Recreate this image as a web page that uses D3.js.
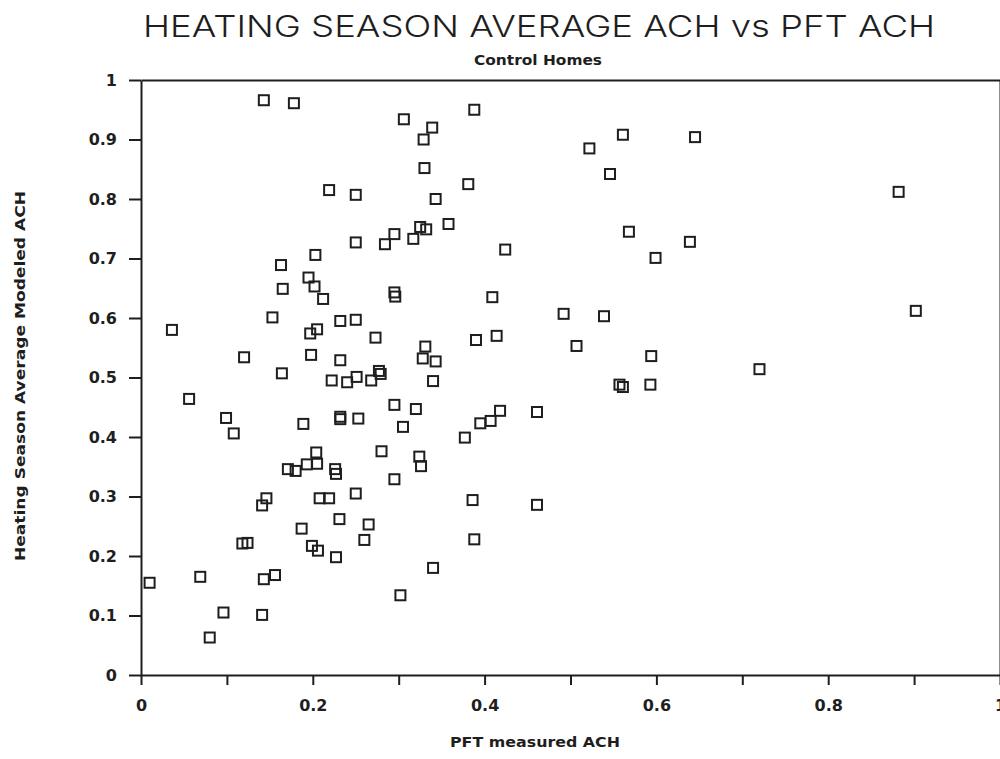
<!DOCTYPE html>
<html>
<head>
<meta charset="utf-8">
<script src="https://cdn.jsdelivr.net/npm/d3@7"></script>
<style>
  html, body { margin: 0; padding: 0; background: #ffffff; }
  svg { display: block; }
</style>
</head>
<body>
<svg id="chart" width="1000" height="759"></svg>
<script>
// ---- data ----
const pftACH = [
  0.143, 0.178, 0.306, 0.339, 0.329, 0.330, 0.219, 0.250, 0.343, 0.325,
  0.332, 0.295, 0.317, 0.284, 0.250, 0.203, 0.163, 0.195, 0.202, 0.212,
  0.165, 0.295, 0.296, 0.153, 0.036, 0.232, 0.250, 0.197, 0.205, 0.273,
  0.120, 0.198, 0.232, 0.331, 0.328, 0.343, 0.164, 0.222, 0.240, 0.251,
  0.268, 0.279, 0.277, 0.340, 0.056, 0.099, 0.108, 0.189, 0.232, 0.232,
  0.253, 0.295, 0.320, 0.305, 0.204, 0.193, 0.205, 0.171, 0.180, 0.226,
  0.227, 0.280, 0.324, 0.326, 0.295, 0.146, 0.141, 0.208, 0.219, 0.250,
  0.231, 0.265, 0.187, 0.260, 0.118, 0.124, 0.199, 0.206, 0.227, 0.340,
  0.010, 0.069, 0.143, 0.156, 0.302, 0.096, 0.141, 0.080, 0.388, 0.522,
  0.561, 0.645, 0.546, 0.381, 0.358, 0.424, 0.568, 0.639, 0.599, 0.409,
  0.492, 0.539, 0.390, 0.414, 0.507, 0.594, 0.557, 0.561, 0.593, 0.377,
  0.395, 0.407, 0.418, 0.461, 0.386, 0.461, 0.388, 0.882, 0.902, 0.720
];
const modeledACH = [
  0.966, 0.961, 0.934, 0.920, 0.900, 0.852, 0.815, 0.807, 0.800, 0.753,
  0.749, 0.741, 0.733, 0.724, 0.727, 0.706, 0.689, 0.668, 0.653, 0.632,
  0.649, 0.643, 0.636, 0.601, 0.580, 0.595, 0.597, 0.574, 0.581, 0.567,
  0.534, 0.538, 0.529, 0.552, 0.532, 0.527, 0.507, 0.495, 0.492, 0.501,
  0.495, 0.506, 0.511, 0.494, 0.464, 0.432, 0.406, 0.422, 0.434, 0.430,
  0.431, 0.454, 0.447, 0.417, 0.374, 0.354, 0.355, 0.346, 0.343, 0.346,
  0.338, 0.376, 0.367, 0.351, 0.329, 0.297, 0.285, 0.297, 0.297, 0.305,
  0.262, 0.253, 0.246, 0.227, 0.221, 0.222, 0.217, 0.209, 0.198, 0.180,
  0.155, 0.165, 0.161, 0.168, 0.134, 0.105, 0.101, 0.063, 0.950, 0.885,
  0.908, 0.904, 0.842, 0.825, 0.758, 0.715, 0.745, 0.728, 0.701, 0.635,
  0.607, 0.603, 0.563, 0.570, 0.553, 0.536, 0.488, 0.484, 0.488, 0.399,
  0.423, 0.427, 0.444, 0.442, 0.294, 0.286, 0.228, 0.812, 0.612, 0.514
];
const xTickValues = [0, 0.1, 0.2, 0.3, 0.4, 0.5, 0.6, 0.7, 0.8, 0.9, 1];
const xTickLabels = ["0", "", "0.2", "", "0.4", "", "0.6", "", "0.8", "", "1"];
const yTickValues = [0, 0.1, 0.2, 0.3, 0.4, 0.5, 0.6, 0.7, 0.8, 0.9, 1];
const yTickLabels = ["0", "0.1", "0.2", "0.3", "0.4", "0.5", "0.6", "0.7", "0.8", "0.9", "1"];
const titleText = "HEATING SEASON AVERAGE ACH vs PFT ACH";
const subtitleText = "Control Homes";
const xAxisTitle = "PFT measured ACH";
const yAxisTitle = "Heating Season Average Modeled ACH";

// ---- layout ----
const svg = d3.select("#chart");
const plotL = 141, plotR = 1000, plotT = 80, plotB = 675;
const ink = "#1e1e1e";

const x = d3.scaleLinear().domain([0, 1]).range([plotL, plotR]);
const y = d3.scaleLinear().domain([0, 1]).range([plotB, plotT]);

// frame top & right
svg.append("g").attr("transform", `translate(0,${plotT})`)
  .call(d3.axisTop(x).tickValues([]).tickSizeOuter(0))
  .call(g => g.select(".domain").attr("stroke", ink).attr("stroke-width", 2));
svg.append("g").attr("transform", `translate(${plotR},0)`)
  .call(d3.axisRight(y).tickValues([]).tickSizeOuter(0))
  .call(g => g.select(".domain").attr("stroke", ink).attr("stroke-width", 2));

// bottom axis
const xAxis = svg.append("g").attr("transform", `translate(0,${plotB})`)
  .call(d3.axisBottom(x).tickValues(xTickValues).tickSize(10).tickSizeOuter(0).tickPadding(15)
    .tickFormat((d, i) => xTickLabels[i]));
xAxis.select(".domain").attr("stroke", ink).attr("stroke-width", 2);
xAxis.selectAll(".tick line").attr("stroke", ink).attr("stroke-width", 2);
xAxis.selectAll(".tick text")
  .attr("fill", ink)
  .style("font-family", "'DejaVu Sans', sans-serif")
  .style("font-weight", "bold")
  .style("font-size", "16px");

// left axis
const yAxis = svg.append("g").attr("transform", `translate(${plotL},0)`)
  .call(d3.axisLeft(y).tickValues(yTickValues).tickSize(12).tickSizeOuter(0).tickPadding(12)
    .tickFormat((d, i) => yTickLabels[i]));
yAxis.select(".domain").attr("stroke", ink).attr("stroke-width", 2);
yAxis.selectAll(".tick line").attr("stroke", ink).attr("stroke-width", 2);
yAxis.selectAll(".tick text")
  .attr("fill", ink)
  .style("font-family", "'DejaVu Sans', sans-serif")
  .style("font-weight", "bold")
  .style("font-size", "16px");

// points (open squares)
const pts = pftACH.map((v, i) => ({ px: v, my: modeledACH[i] }));
const s = 10;
svg.append("g").selectAll("rect").data(pts).join("rect")
  .attr("x", d => x(d.px) - s / 2)
  .attr("y", d => y(d.my) - s / 2)
  .attr("width", s).attr("height", s)
  .attr("fill", "none")
  .attr("stroke", ink)
  .attr("stroke-width", 2);

// titles
svg.append("text")
  .attr("x", 539).attr("y", 37)
  .attr("text-anchor", "middle")
  .attr("textLength", 792).attr("lengthAdjust", "spacingAndGlyphs")
  .attr("fill", ink)
  .style("font-family", "Inter, 'Liberation Sans', Arial, sans-serif")
  .style("font-weight", "300")
  .style("font-size", "30px")
  .text(titleText);

svg.append("text")
  .attr("x", 538).attr("y", 65)
  .attr("text-anchor", "middle")
  .attr("textLength", 128).attr("lengthAdjust", "spacingAndGlyphs")
  .attr("fill", ink)
  .style("font-family", "'DejaVu Sans', sans-serif")
  .style("font-weight", "bold")
  .style("font-size", "14px")
  .text(subtitleText);

svg.append("text")
  .attr("x", 535).attr("y", 747)
  .attr("text-anchor", "middle")
  .attr("textLength", 170).attr("lengthAdjust", "spacingAndGlyphs")
  .attr("fill", ink)
  .style("font-family", "'DejaVu Sans', sans-serif")
  .style("font-weight", "bold")
  .style("font-size", "14px")
  .text(xAxisTitle);

svg.append("text")
  .attr("transform", "translate(25,376) rotate(-90)")
  .attr("text-anchor", "middle")
  .attr("textLength", 370).attr("lengthAdjust", "spacingAndGlyphs")
  .attr("fill", ink)
  .style("font-family", "'DejaVu Sans', sans-serif")
  .style("font-weight", "bold")
  .style("font-size", "14px")
  .text(yAxisTitle);
</script>
</body>
</html>
